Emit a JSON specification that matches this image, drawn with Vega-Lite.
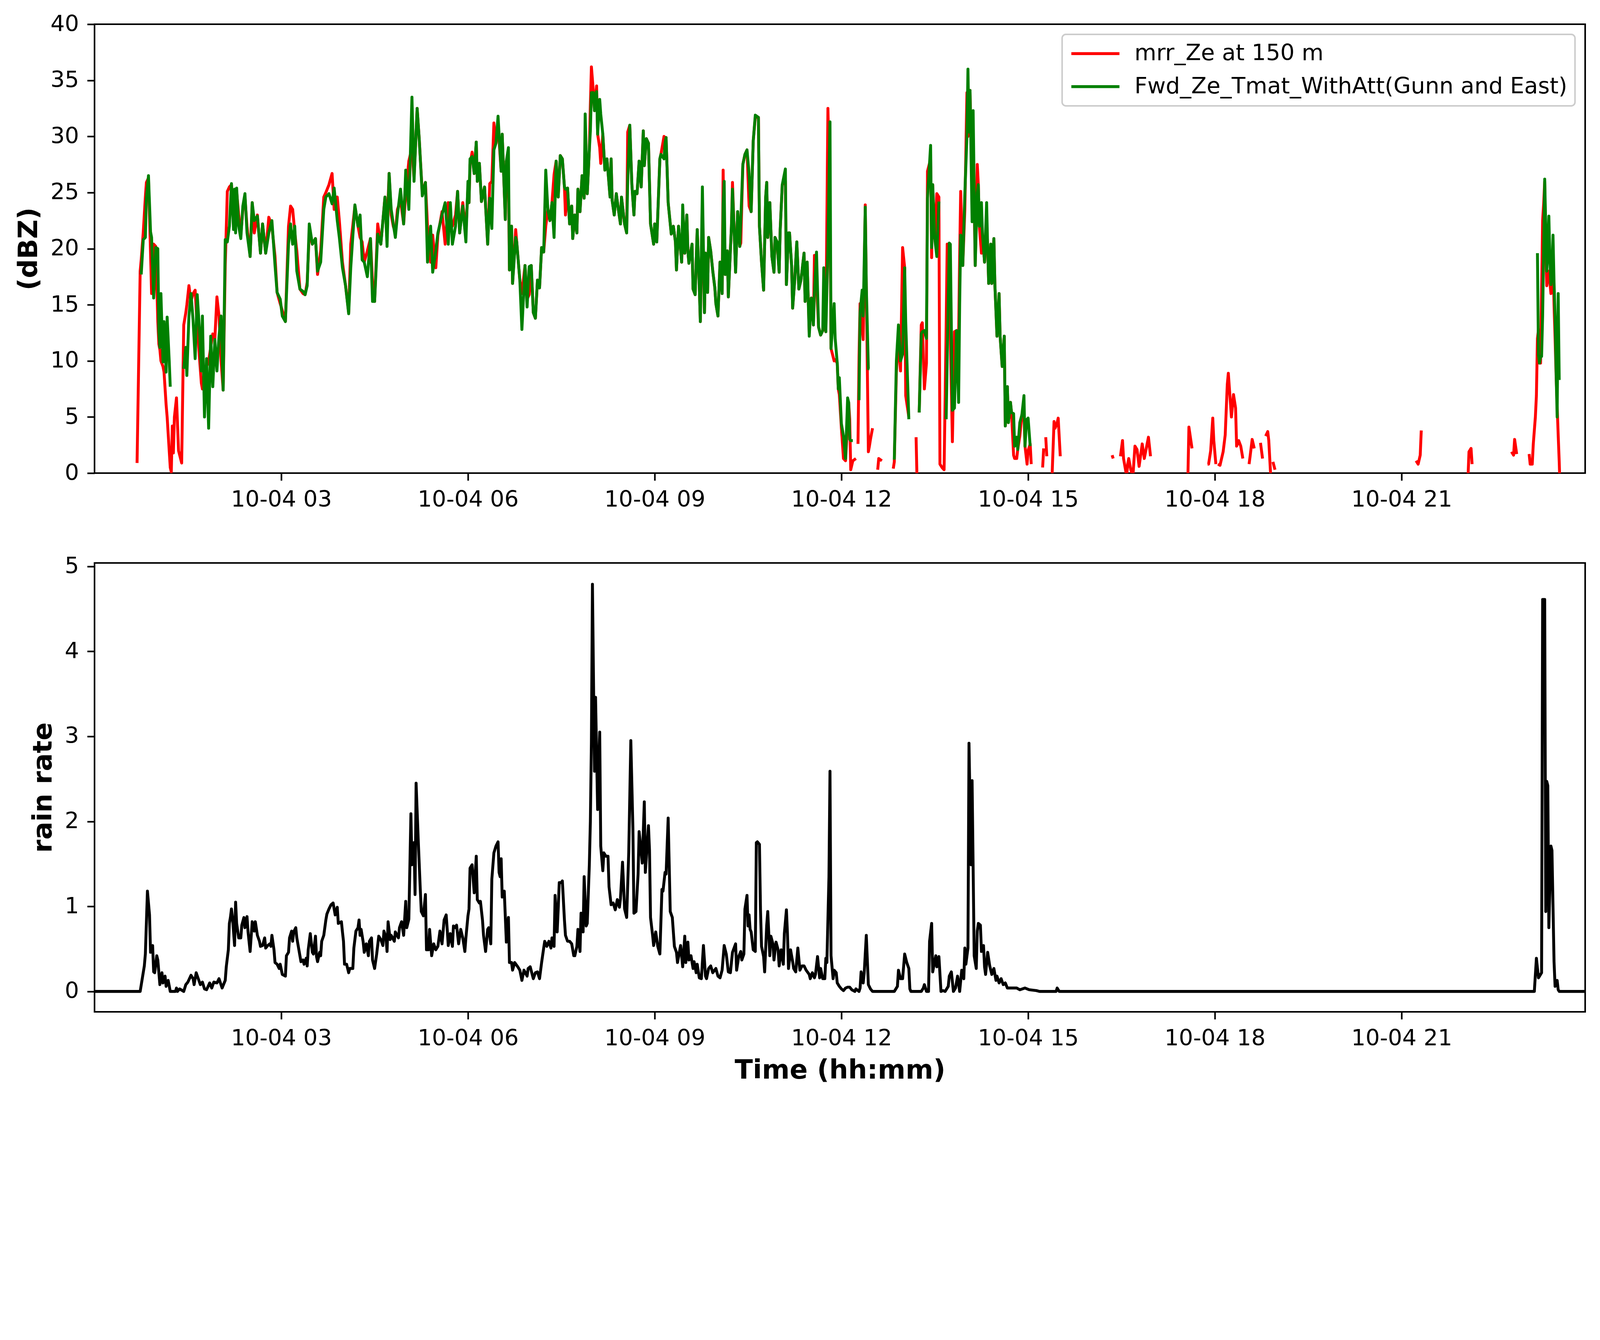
{
  "$schema": "https://vega.github.io/schema/vega-lite/v6.json",
  "background": "white",
  "padding": {"left": 37, "top": 30, "right": 8, "bottom": 8},
  "spacing": 230,
  "bounds": "flush",
  "config": {
    "font": "DejaVu Sans",
    "view": {"stroke": "black", "strokeWidth": 4.1},
    "axis": {
      "grid": false,
      "domain": false,
      "tickColor": "black",
      "tickWidth": 4.1,
      "tickSize": 18.9,
      "labelFont": "DejaVu Sans",
      "labelFontSize": 57.5,
      "labelColor": "black",
      "labelPadding": 21.3,
      "labelLimit": 0,
      "labelFlush": false,
      "labelOverlap": false,
      "titleFont": "DejaVu Sans",
      "titleFontSize": 68.2,
      "titleFontWeight": "bold",
      "titleColor": "black",
      "titlePadding": 19.7
    },
    "legend": {
      "orient": "top-right",
      "offset": 26.3,
      "padding": 19.7,
      "strokeColor": "#cccccc",
      "strokeWidth": 3.9,
      "cornerRadius": 9.8,
      "fillColor": "white",
      "symbolType": "stroke",
      "symbolSize": 15170,
      "symbolStrokeWidth": 7.4,
      "clipHeight": 59,
      "labelFont": "DejaVu Sans",
      "labelFontSize": 57.5,
      "labelColor": "black",
      "labelOffset": 34.5,
      "labelLimit": 0,
      "rowPadding": 25.6
    },
    "line": {"strokeWidth": 7.4, "strokeJoin": "round", "invalid": "break-paths-show-domains"}
  },
  "vconcat": [
    {
      "width": 3816,
      "height": 1149,
      "data": {
        "format": {"parse": {"t": "date:'%H:%M'"}},
        "values": [
          {"t":"00:41","mrr":0.9},{"t":"00:44","mrr":18},{"t":"00:45","mrr":19,"fwd":17.7},{"t":"00:47","mrr":21.5,"fwd":20.8},
          {"t":"00:49","mrr":24.6,"fwd":21},{"t":"00:50","mrr":25.9,"fwd":24.5},{"t":"00:52","mrr":26.3,"fwd":26.5},{"t":"00:54","mrr":19.6,"fwd":21.5},
          {"t":"00:55","mrr":16,"fwd":21},{"t":"00:57","mrr":20.4,"fwd":15.6},{"t":"00:59","mrr":20.2,"fwd":20.1},{"t":"01:01","mrr":13.5,"fwd":20},
          {"t":"01:02","mrr":11.5,"fwd":12.7},{"t":"01:03","mrr":11,"fwd":11.2},{"t":"01:04","mrr":10,"fwd":16},{"t":"01:06","mrr":9.5,"fwd":9.9},
          {"t":"01:07","mrr":9,"fwd":13.5},{"t":"01:09","mrr":6.1,"fwd":9},{"t":"01:10","mrr":5,"fwd":13.9},{"t":"01:12","mrr":2,"fwd":10},
          {"t":"01:13","mrr":0.5,"fwd":7.7},{"t":"01:14","mrr":0.1,"fwd":null},{"t":"01:15","mrr":4.2,"fwd":null},{"t":"01:16","mrr":1.8,"fwd":null},
          {"t":"01:17","mrr":5,"fwd":null},{"t":"01:19","mrr":6.7,"fwd":null},{"t":"01:21","mrr":2,"fwd":null},{"t":"01:24","mrr":0.9,"fwd":null},
          {"t":"01:26","mrr":13.2,"fwd":9.3},{"t":"01:28","mrr":14.3,"fwd":11.2},{"t":"01:29","mrr":15,"fwd":8.7},{"t":"01:31","mrr":16.7,"fwd":14},
          {"t":"01:33","mrr":15.3,"fwd":16},{"t":"01:35","mrr":16,"fwd":13.6},{"t":"01:37","mrr":16.3,"fwd":10.2},{"t":"01:39","mrr":13,"fwd":15.9},
          {"t":"01:41","mrr":10.5,"fwd":13},{"t":"01:43","mrr":8,"fwd":9.1},{"t":"01:44","mrr":7.5,"fwd":14},{"t":"01:46","mrr":9,"fwd":5},
          {"t":"01:48","mrr":9.5,"fwd":10.2},{"t":"01:50","mrr":10,"fwd":4},{"t":"01:52","mrr":11.2,"fwd":12.2},{"t":"01:54","mrr":12.4,"fwd":7.7},
          {"t":"01:56","mrr":12,"fwd":11.9},{"t":"01:58","mrr":15.7,"fwd":9.1},{"t":"02:00","mrr":14,"fwd":12.2},{"t":"02:02","mrr":10,"fwd":14},
          {"t":"02:04","mrr":7.4,"fwd":7.4},{"t":"02:06","mrr":18.5,"fwd":20.8},{"t":"02:08","mrr":25.1,"fwd":20.6},{"t":"02:10","mrr":25.5,"fwd":22},
          {"t":"02:12","mrr":25.7,"fwd":25.8},{"t":"02:14","mrr":22,"fwd":21.7},{"t":"02:15","mrr":23,"fwd":25.3},{"t":"02:16","mrr":22,"fwd":21.4},
          {"t":"02:17","mrr":25.1,"fwd":25.4},{"t":"02:19","mrr":23,"fwd":22},{"t":"02:21","mrr":21.2,"fwd":20.9},{"t":"02:23","mrr":23.5,"fwd":23.8},
          {"t":"02:25","mrr":24.6,"fwd":24.9},{"t":"02:27","mrr":22,"fwd":21.4},{"t":"02:30","mrr":19.3,"fwd":19.3},{"t":"02:32","mrr":24.1,"fwd":24.1},
          {"t":"02:34","mrr":21.4,"fwd":22.5},{"t":"02:37","mrr":23,"fwd":22.9},{"t":"02:40","mrr":19.6,"fwd":19.6},{"t":"02:42","mrr":22.2,"fwd":22.2},
          {"t":"02:45","mrr":19.6,"fwd":19.6},{"t":"02:48","mrr":22.8,"fwd":21.4},{"t":"02:51","mrr":22,"fwd":22.5},{"t":"02:54","mrr":19.3,"fwd":18.5},
          {"t":"02:56","mrr":16.1,"fwd":16.1},{"t":"02:59","mrr":15.1,"fwd":15.5},{"t":"03:01","mrr":14.5,"fwd":14},{"t":"03:04","mrr":13.5,"fwd":13.5},
          {"t":"03:07","mrr":22,"fwd":20.4},{"t":"03:09","mrr":23.8,"fwd":22.2},{"t":"03:11","mrr":23.5,"fwd":20.4},{"t":"03:13","mrr":21.5,"fwd":22},
          {"t":"03:15","mrr":19.8,"fwd":18},{"t":"03:18","mrr":16.4,"fwd":16.4},{"t":"03:21","mrr":16,"fwd":16.2},{"t":"03:23","mrr":15.9,"fwd":15.9},
          {"t":"03:25","mrr":17,"fwd":16.7},{"t":"03:27","mrr":21.4,"fwd":22.2},{"t":"03:30","mrr":20.4,"fwd":20.4},{"t":"03:33","mrr":20.9,"fwd":20.9},
          {"t":"03:35","mrr":17.7,"fwd":18},{"t":"03:38","mrr":19.8,"fwd":18.8},{"t":"03:41","mrr":24.6,"fwd":23.5},{"t":"03:43","mrr":25,"fwd":24.6},
          {"t":"03:46","mrr":25.7,"fwd":24.9},{"t":"03:49","mrr":26.7,"fwd":24},{"t":"03:51","mrr":23.5,"fwd":25.4},{"t":"03:54","mrr":24.6,"fwd":22.5},
          {"t":"03:56","mrr":22.5,"fwd":21},{"t":"03:59","mrr":18.8,"fwd":18.3},{"t":"04:02","mrr":16.7,"fwd":16.7},{"t":"04:05","mrr":14.3,"fwd":14.2},
          {"t":"04:07","mrr":20.4,"fwd":18.3},{"t":"04:11","mrr":23.8,"fwd":23.9},{"t":"04:14","mrr":22,"fwd":22},{"t":"04:16","mrr":21,"fwd":23},
          {"t":"04:18","mrr":20.6,"fwd":19},{"t":"04:20","mrr":18.8,"fwd":18.8},{"t":"04:23","mrr":19.8,"fwd":17.5},{"t":"04:26","mrr":20.9,"fwd":20.9},
          {"t":"04:28","mrr":17,"fwd":15.3},{"t":"04:30","mrr":15.3,"fwd":15.3},{"t":"04:33","mrr":22.2,"fwd":21.3},{"t":"04:36","mrr":20.4,"fwd":20.4},
          {"t":"04:40","mrr":24.6,"fwd":24.6},{"t":"04:42","mrr":22,"fwd":20.2},{"t":"04:44","mrr":26.7,"fwd":26.7},{"t":"04:46","mrr":23,"fwd":23.5},
          {"t":"04:48","mrr":22,"fwd":22.2},{"t":"04:50","mrr":21.4,"fwd":21},{"t":"04:52","mrr":23.5,"fwd":23},{"t":"04:55","mrr":24.3,"fwd":25.3},
          {"t":"04:58","mrr":22.2,"fwd":22.2},{"t":"05:00","mrr":24.9,"fwd":27},{"t":"05:03","mrr":27.8,"fwd":23.5},{"t":"05:06","mrr":29,"fwd":33.5},
          {"t":"05:08","mrr":26.2,"fwd":26},{"t":"05:11","mrr":32.5,"fwd":32.5},{"t":"05:13","mrr":29.8,"fwd":29.8},{"t":"05:16","mrr":24.9,"fwd":24.7},
          {"t":"05:19","mrr":25.9,"fwd":25.9},{"t":"05:21","mrr":22,"fwd":18.8},{"t":"05:24","mrr":18.8,"fwd":22},{"t":"05:26","mrr":21.2,"fwd":17.9},
          {"t":"05:29","mrr":18.3,"fwd":19.8},{"t":"05:31","mrr":21.2,"fwd":21.4},{"t":"05:35","mrr":23.3,"fwd":23},{"t":"05:38","mrr":20.4,"fwd":24.1},
          {"t":"05:41","mrr":24.1,"fwd":20.4},{"t":"05:43","mrr":22,"fwd":24.1},{"t":"05:45","mrr":22,"fwd":20.4},{"t":"05:48","mrr":23,"fwd":22},
          {"t":"05:50","mrr":25.1,"fwd":25.1},{"t":"05:52","mrr":21.4,"fwd":21.4},{"t":"05:55","mrr":24.1,"fwd":23.8},{"t":"05:58","mrr":21.4,"fwd":20.6},
          {"t":"06:00","mrr":25.5,"fwd":26},{"t":"06:01","mrr":24.1,"fwd":24.1},{"t":"06:02","mrr":27.5,"fwd":28},{"t":"06:04","mrr":28.6,"fwd":28.2},
          {"t":"06:06","mrr":26.7,"fwd":26.7},{"t":"06:08","mrr":29.5,"fwd":29.5},{"t":"06:09","mrr":26,"fwd":26},{"t":"06:11","mrr":27.6,"fwd":27.6},
          {"t":"06:13","mrr":24.2,"fwd":24.2},{"t":"06:16","mrr":25.5,"fwd":25.5},{"t":"06:19","mrr":20.4,"fwd":20.4},{"t":"06:21","mrr":25.8,"fwd":24.5},
          {"t":"06:23","mrr":26,"fwd":21.8},{"t":"06:25","mrr":31.2,"fwd":28.8},{"t":"06:27","mrr":29.4,"fwd":29.4},{"t":"06:29","mrr":31,"fwd":31.8},
          {"t":"06:32","mrr":26.9,"fwd":26.9},{"t":"06:33","mrr":30.2,"fwd":30.2},{"t":"06:36","mrr":22.6,"fwd":22.6},{"t":"06:37","mrr":27.8,"fwd":27.8},
          {"t":"06:39","mrr":26,"fwd":29},{"t":"06:40","mrr":18.1,"fwd":18.1},{"t":"06:42","mrr":22,"fwd":22},{"t":"06:43","mrr":16.9,"fwd":16.9},
          {"t":"06:46","mrr":21.7,"fwd":21},{"t":"06:47","mrr":20.6,"fwd":20.6},{"t":"06:50","mrr":17.2,"fwd":17.2},{"t":"06:52","mrr":16,"fwd":12.8},
          {"t":"06:55","mrr":18.5,"fwd":18.5},{"t":"06:57","mrr":15.5,"fwd":14.8},{"t":"06:59","mrr":15.9,"fwd":18.4},{"t":"07:01","mrr":18.5,"fwd":18.5},
          {"t":"07:03","mrr":14.3,"fwd":14.3},{"t":"07:05","mrr":13.8,"fwd":13.8},{"t":"07:07","mrr":17.2,"fwd":17.2},{"t":"07:09","mrr":16.5,"fwd":16.5},
          {"t":"07:11","mrr":20.1,"fwd":20.1},{"t":"07:13","mrr":19.7,"fwd":19.7},{"t":"07:15","mrr":22,"fwd":27},{"t":"07:17","mrr":23.5,"fwd":23.5},
          {"t":"07:19","mrr":22.5,"fwd":22.5},{"t":"07:21","mrr":24.1,"fwd":24.1},{"t":"07:23","mrr":26.6,"fwd":21},{"t":"07:25","mrr":27.8,"fwd":27.8},
          {"t":"07:27","mrr":24.6,"fwd":24.6},{"t":"07:29","mrr":28.3,"fwd":28.3},{"t":"07:31","mrr":28,"fwd":28},{"t":"07:33","mrr":25.5,"fwd":25.5},
          {"t":"07:34","mrr":23,"fwd":25.3},{"t":"07:36","mrr":25.4,"fwd":25.4},{"t":"07:38","mrr":22.2,"fwd":22.2},{"t":"07:40","mrr":23.8,"fwd":23.8},
          {"t":"07:41","mrr":20.9,"fwd":20.9},{"t":"07:43","mrr":23,"fwd":23},{"t":"07:45","mrr":21.4,"fwd":21.4},{"t":"07:46","mrr":25.3,"fwd":25.3},
          {"t":"07:48","mrr":23.3,"fwd":23.3},{"t":"07:50","mrr":26.5,"fwd":26.5},{"t":"07:52","mrr":24.5,"fwd":24.5},{"t":"07:53","mrr":27,"fwd":32},
          {"t":"07:55","mrr":24.9,"fwd":24.9},{"t":"07:57","mrr":28.8,"fwd":28.8},{"t":"07:58","mrr":32.8,"fwd":30.5},{"t":"07:59","mrr":36.2,"fwd":33.9},
          {"t":"08:01","mrr":33.9,"fwd":33.9},{"t":"08:02","mrr":32.3,"fwd":32.3},{"t":"08:04","mrr":34.5,"fwd":34},{"t":"08:05","mrr":30.2,"fwd":30.2},
          {"t":"08:07","mrr":29,"fwd":33.3},{"t":"08:08","mrr":27.6,"fwd":32},{"t":"08:10","mrr":30.2,"fwd":30.2},{"t":"08:12","mrr":27,"fwd":27},
          {"t":"08:14","mrr":28,"fwd":28},{"t":"08:17","mrr":24.6,"fwd":24.6},{"t":"08:18","mrr":28,"fwd":28},{"t":"08:19","mrr":24.3,"fwd":24.3},
          {"t":"08:21","mrr":23,"fwd":23},{"t":"08:23","mrr":24.9,"fwd":24.9},{"t":"08:25","mrr":23.5,"fwd":23.5},{"t":"08:27","mrr":22.2,"fwd":22.2},
          {"t":"08:28","mrr":24.6,"fwd":24.6},{"t":"08:31","mrr":22.2,"fwd":22.2},{"t":"08:33","mrr":21.4,"fwd":21.4},{"t":"08:34","mrr":30.4,"fwd":26},
          {"t":"08:36","mrr":31,"fwd":31},{"t":"08:38","mrr":25.7,"fwd":25.7},{"t":"08:40","mrr":23,"fwd":23},{"t":"08:41","mrr":25.1,"fwd":25.1},
          {"t":"08:43","mrr":24.9,"fwd":24.9},{"t":"08:45","mrr":27.8,"fwd":27.8},{"t":"08:47","mrr":25.5,"fwd":25.5},{"t":"08:49","mrr":30.5,"fwd":30.5},
          {"t":"08:50","mrr":27.4,"fwd":27.4},{"t":"08:52","mrr":29.8,"fwd":29.8},{"t":"08:54","mrr":29.4,"fwd":29.4},{"t":"08:56","mrr":22.2,"fwd":22.2},
          {"t":"08:59","mrr":20.4,"fwd":20.4},{"t":"09:00","mrr":22.2,"fwd":22.2},{"t":"09:02","mrr":20.6,"fwd":20.6},{"t":"09:05","mrr":28,"fwd":28},
          {"t":"09:06","mrr":28.4,"fwd":28.4},{"t":"09:09","mrr":30,"fwd":28},{"t":"09:10","mrr":29.5,"fwd":29.4},{"t":"09:11","mrr":29.9,"fwd":29.9},
          {"t":"09:13","mrr":24.1,"fwd":24.1},{"t":"09:16","mrr":21.3,"fwd":21.3},{"t":"09:18","mrr":22,"fwd":22},{"t":"09:20","mrr":20.6,"fwd":20.6},
          {"t":"09:21","mrr":18.1,"fwd":18.1},{"t":"09:23","mrr":22,"fwd":22},{"t":"09:26","mrr":18.8,"fwd":18.8},{"t":"09:27","mrr":21,"fwd":23.9},
          {"t":"09:29","mrr":19.6,"fwd":19.6},{"t":"09:31","mrr":23,"fwd":23},{"t":"09:32","mrr":19.8,"fwd":19.8},{"t":"09:33","mrr":18.7,"fwd":18.7},
          {"t":"09:36","mrr":20.4,"fwd":20.4},{"t":"09:37","mrr":16.4,"fwd":16.4},{"t":"09:39","mrr":15.9,"fwd":15.9},{"t":"09:41","mrr":21.7,"fwd":21.7},
          {"t":"09:43","mrr":16.7,"fwd":16.7},{"t":"09:44","mrr":13.5,"fwd":13.5},{"t":"09:46","mrr":24,"fwd":25.5},{"t":"09:48","mrr":14.3,"fwd":14.3},
          {"t":"09:49","mrr":19.6,"fwd":19.6},{"t":"09:51","mrr":16.1,"fwd":16.1},{"t":"09:52","mrr":21,"fwd":21},{"t":"09:54","mrr":19.8,"fwd":19.8},
          {"t":"09:56","mrr":18,"fwd":18},{"t":"09:58","mrr":16.5,"fwd":16.5},{"t":"09:59","mrr":15.1,"fwd":15.1},{"t":"10:01","mrr":14,"fwd":14},
          {"t":"10:03","mrr":18.8,"fwd":18.8},{"t":"10:05","mrr":16,"fwd":16},{"t":"10:06","mrr":27,"fwd":24},{"t":"10:07","mrr":20,"fwd":26},
          {"t":"10:08","mrr":17.7,"fwd":17.7},{"t":"10:10","mrr":19.8,"fwd":19.8},{"t":"10:11","mrr":15.7,"fwd":15.7},{"t":"10:14","mrr":22,"fwd":22},
          {"t":"10:15","mrr":25.9,"fwd":25.3},{"t":"10:17","mrr":20.6,"fwd":20.6},{"t":"10:18","mrr":17.9,"fwd":17.9},{"t":"10:20","mrr":23.3,"fwd":23.3},
          {"t":"10:22","mrr":20.2,"fwd":20.2},{"t":"10:23","mrr":20.5,"fwd":22.5},{"t":"10:25","mrr":27.5,"fwd":27.5},{"t":"10:27","mrr":28.4,"fwd":28.4},
          {"t":"10:29","mrr":28.8,"fwd":28.8},{"t":"10:31","mrr":23.8,"fwd":26.7},{"t":"10:33","mrr":23.3,"fwd":23.3},{"t":"10:35","mrr":29.6,"fwd":29.6},
          {"t":"10:37","mrr":31.7,"fwd":31.9},{"t":"10:40","mrr":31.7,"fwd":31.7},{"t":"10:41","mrr":22,"fwd":22},{"t":"10:43","mrr":18.8,"fwd":18.8},
          {"t":"10:45","mrr":16.3,"fwd":16.3},{"t":"10:47","mrr":24.6,"fwd":24.6},{"t":"10:48","mrr":25.9,"fwd":25.9},{"t":"10:49","mrr":21,"fwd":21},
          {"t":"10:51","mrr":24.1,"fwd":24.1},{"t":"10:53","mrr":19.3,"fwd":19.3},{"t":"10:55","mrr":17.9,"fwd":17.9},{"t":"10:56","mrr":21,"fwd":21},
          {"t":"10:58","mrr":20.6,"fwd":20.6},{"t":"11:00","mrr":17.9,"fwd":17.9},{"t":"11:01","mrr":21.7,"fwd":21.7},{"t":"11:03","mrr":25.7,"fwd":25.7},
          {"t":"11:06","mrr":26,"fwd":27.1},{"t":"11:07","mrr":16.8,"fwd":16.8},{"t":"11:09","mrr":21.4,"fwd":21.4},{"t":"11:10","mrr":21.4,"fwd":21.4},
          {"t":"11:12","mrr":18.5,"fwd":18.5},{"t":"11:13","mrr":14.7,"fwd":14.7},{"t":"11:15","mrr":17.2,"fwd":17.2},{"t":"11:17","mrr":20.6,"fwd":20.6},
          {"t":"11:19","mrr":16.4,"fwd":16.4},{"t":"11:21","mrr":17.2,"fwd":17.2},{"t":"11:24","mrr":19.6,"fwd":19.6},{"t":"11:25","mrr":15.3,"fwd":15.3},
          {"t":"11:27","mrr":18.8,"fwd":18.8},{"t":"11:29","mrr":12.5,"fwd":12.2},{"t":"11:31","mrr":15.6,"fwd":15.6},{"t":"11:33","mrr":13.2,"fwd":13.2},
          {"t":"11:34","mrr":19.4,"fwd":16},{"t":"11:36","mrr":17,"fwd":19.7},{"t":"11:38","mrr":13,"fwd":13},{"t":"11:40","mrr":12.3,"fwd":12.3},
          {"t":"11:42","mrr":12.7,"fwd":12.7},{"t":"11:43","mrr":14,"fwd":18.3},{"t":"11:45","mrr":12.6,"fwd":12.6},{"t":"11:47","mrr":32.5,"fwd":20},
          {"t":"11:49","mrr":24,"fwd":31.3},{"t":"11:50","mrr":11.1,"fwd":11.1},{"t":"11:53","mrr":10,"fwd":15.1},{"t":"11:54","mrr":10.1,"fwd":12},
          {"t":"11:56","mrr":9.8,"fwd":9.8},{"t":"11:57","mrr":7.5,"fwd":7.5},{"t":"11:58","mrr":7,"fwd":8.5},{"t":"12:00","mrr":4,"fwd":4.4},
          {"t":"12:02","mrr":1.3,"fwd":3.3},{"t":"12:04","mrr":1.1,"fwd":1.3},{"t":"12:06","mrr":4.5,"fwd":6.7},{"t":"12:07","mrr":6.3,"fwd":6.3},
          {"t":"12:08","mrr":4.8,"fwd":3},{"t":"12:09","mrr":0.3,"fwd":2.9},{"t":"12:11","mrr":1.1,"fwd":2.9},{"t":"12:14","mrr":1.3,"fwd":null},
          {"t":"12:15","mrr":null,"fwd":null},{"t":"12:16","mrr":2.6,"fwd":null},{"t":"12:17","mrr":10.4,"fwd":6.5},{"t":"12:18","mrr":15.1,"fwd":14.3},
          {"t":"12:20","mrr":13,"fwd":16.3},{"t":"12:21","mrr":11.9,"fwd":14},{"t":"12:23","mrr":23.9,"fwd":23.7},{"t":"12:24","mrr":16.7,"fwd":16.7},
          {"t":"12:26","mrr":1.9,"fwd":9.3},{"t":"12:27","mrr":2.4,"fwd":9.3},{"t":"12:28","mrr":3,"fwd":null},{"t":"12:30","mrr":4,"fwd":null},
          {"t":"12:32","mrr":null,"fwd":null},{"t":"12:35","mrr":0.3},{"t":"12:36","mrr":1.3},{"t":"12:39","mrr":1.1},
          {"t":"12:41","mrr":null},{"t":"12:50","mrr":0.4},{"t":"12:51","mrr":1,"fwd":1.2},{"t":"12:53","mrr":9,"fwd":10},
          {"t":"12:55","mrr":12,"fwd":13.2},{"t":"12:57","mrr":9.1,"fwd":10},{"t":"12:59","mrr":20.1,"fwd":10.6},{"t":"13:01","mrr":18.3,"fwd":18.3},
          {"t":"13:02","mrr":6.9,"fwd":13.5},{"t":"13:05","mrr":5,"fwd":4.8},{"t":"13:07","mrr":null,"fwd":null},{"t":"13:12","mrr":3.2},
          {"t":"13:13","mrr":-1},{"t":"13:14","mrr":null},{"t":"13:15","mrr":5.4,"fwd":5.4},{"t":"13:17","mrr":13.2,"fwd":12.4},
          {"t":"13:18","mrr":13.4,"fwd":12.6},{"t":"13:20","mrr":7.5,"fwd":12.7},{"t":"13:22","mrr":9.8,"fwd":12},{"t":"13:23","mrr":26.9,"fwd":24.5},
          {"t":"13:26","mrr":28,"fwd":29.2},{"t":"13:27","mrr":19.2,"fwd":20.1},{"t":"13:28","mrr":25.7,"fwd":25.7},{"t":"13:30","mrr":20.9,"fwd":20.9},
          {"t":"13:32","mrr":24.9,"fwd":19.3},{"t":"13:34","mrr":24.6,"fwd":24.2},{"t":"13:35","mrr":0.8,"fwd":null},{"t":"13:37","mrr":0.5,"fwd":null},
          {"t":"13:39","mrr":0.3,"fwd":null},{"t":"13:41","mrr":13.1,"fwd":4.8},{"t":"13:42","mrr":20.4,"fwd":10.1},{"t":"13:44","mrr":19,"fwd":20.5},
          {"t":"13:45","mrr":12.4,"fwd":20.4},{"t":"13:47","mrr":2.8,"fwd":5.6},{"t":"13:49","mrr":12.6,"fwd":5.8},{"t":"13:51","mrr":12.7,"fwd":12.7},
          {"t":"13:53","mrr":12.3,"fwd":6.3},{"t":"13:54","mrr":19.3,"fwd":15},{"t":"13:55","mrr":25.1,"fwd":21.2},{"t":"13:57","mrr":18.5,"fwd":18.5},
          {"t":"13:59","mrr":23.5,"fwd":24.9},{"t":"14:01","mrr":33.9,"fwd":30},{"t":"14:02","mrr":30,"fwd":36},{"t":"14:03","mrr":30.4,"fwd":30.4},
          {"t":"14:04","mrr":34.1,"fwd":34.1},{"t":"14:06","mrr":25.4,"fwd":22.4},{"t":"14:07","mrr":30,"fwd":32.3},{"t":"14:09","mrr":18.5,"fwd":18.5},
          {"t":"14:11","mrr":27.5,"fwd":25},{"t":"14:12","mrr":25.7,"fwd":25.7},{"t":"14:13","mrr":22,"fwd":22},{"t":"14:15","mrr":19.6,"fwd":24.1},
          {"t":"14:16","mrr":21.3,"fwd":21.3},{"t":"14:18","mrr":18.8,"fwd":18.8},{"t":"14:20","mrr":22,"fwd":24.1},{"t":"14:21","mrr":20.1,"fwd":20.1},
          {"t":"14:22","mrr":16.9,"fwd":16.9},{"t":"14:24","mrr":20.4,"fwd":20.4},{"t":"14:25","mrr":16.9,"fwd":16.9},{"t":"14:27","mrr":20.9,"fwd":20.9},
          {"t":"14:28","mrr":16.7,"fwd":16.7},{"t":"14:30","mrr":12.2,"fwd":12.2},{"t":"14:32","mrr":16,"fwd":16},{"t":"14:33","mrr":12.2,"fwd":12.2},
          {"t":"14:35","mrr":9.5,"fwd":9.5},{"t":"14:37","mrr":12.2,"fwd":12.2},{"t":"14:38","mrr":4.2,"fwd":4.2},{"t":"14:40","mrr":7.7,"fwd":7.7},
          {"t":"14:41","mrr":4.5,"fwd":4.5},{"t":"14:43","mrr":6.3,"fwd":6.3},{"t":"14:44","mrr":5.4,"fwd":5.4},{"t":"14:46","mrr":1.6,"fwd":5.3},
          {"t":"14:47","mrr":1.3,"fwd":2.4},{"t":"14:49","mrr":1.3,"fwd":3.2},{"t":"14:50","mrr":2.1,"fwd":2.1},{"t":"14:52","mrr":3.3,"fwd":4.5},
          {"t":"14:54","mrr":5.2,"fwd":5.2},{"t":"14:56","mrr":5.3,"fwd":6.9},{"t":"14:57","mrr":2.4,"fwd":2.4},{"t":"14:58","mrr":1.6,"fwd":4},
          {"t":"14:59","mrr":0.8,"fwd":4.8},{"t":"15:00","mrr":2,"fwd":4.9},{"t":"15:02","mrr":2.6,"fwd":2.4},{"t":"15:03","mrr":0.8,"fwd":null},
          {"t":"15:05","mrr":null},{"t":"15:14","mrr":0.5},{"t":"15:15","mrr":2.2},{"t":"15:16","mrr":null},
          {"t":"15:17","mrr":3.2},{"t":"15:18","mrr":1.5},{"t":"15:19","mrr":null},{"t":"15:23","mrr":-0.5},
          {"t":"15:25","mrr":4.6},{"t":"15:26","mrr":4},{"t":"15:28","mrr":4.5},{"t":"15:29","mrr":4.9},
          {"t":"15:31","mrr":1.5},{"t":"15:32","mrr":null},{"t":"16:21","mrr":1.6},{"t":"16:22","mrr":1.3},
          {"t":"16:23","mrr":null},{"t":"16:29","mrr":1.5},{"t":"16:31","mrr":2.9},{"t":"16:32","mrr":1.3},
          {"t":"16:35","mrr":-0.3},{"t":"16:36","mrr":0.8},{"t":"16:37","mrr":1.3},{"t":"16:39","mrr":0.3},
          {"t":"16:41","mrr":-0.3},{"t":"16:43","mrr":2.4},{"t":"16:45","mrr":2.1},{"t":"16:47","mrr":0.6},
          {"t":"16:50","mrr":2.6},{"t":"16:52","mrr":1.3},{"t":"16:56","mrr":3.2},{"t":"16:58","mrr":1.5},
          {"t":"16:59","mrr":null},{"t":"17:34","mrr":-0.5},{"t":"17:35","mrr":4.1},{"t":"17:38","mrr":2.2},
          {"t":"17:39","mrr":null},{"t":"17:53","mrr":0.8},{"t":"17:54","mrr":0.8},{"t":"17:56","mrr":2},
          {"t":"17:58","mrr":4.9},{"t":"17:59","mrr":2.9},{"t":"18:01","mrr":0.8},{"t":"18:02","mrr":null},
          {"t":"18:03","mrr":0.8},{"t":"18:05","mrr":0.7},{"t":"18:08","mrr":1.9},{"t":"18:10","mrr":3.4},
          {"t":"18:12","mrr":7.9},{"t":"18:13","mrr":8.9},{"t":"18:15","mrr":6.3},{"t":"18:16","mrr":5},
          {"t":"18:18","mrr":7},{"t":"18:20","mrr":5.8},{"t":"18:21","mrr":2.4},{"t":"18:23","mrr":2.9},
          {"t":"18:25","mrr":2.4},{"t":"18:27","mrr":1.3},{"t":"18:28","mrr":null},{"t":"18:33","mrr":0.8},
          {"t":"18:34","mrr":1.5},{"t":"18:36","mrr":3},{"t":"18:38","mrr":2.2},{"t":"18:39","mrr":null},
          {"t":"18:44","mrr":2.7},{"t":"18:46","mrr":1.3},{"t":"18:47","mrr":null},{"t":"18:49","mrr":3.3},
          {"t":"18:51","mrr":3.7},{"t":"18:52","mrr":2.9},{"t":"18:54","mrr":-0.5},{"t":"18:55","mrr":null},
          {"t":"18:56","mrr":1},{"t":"18:58","mrr":0.3},{"t":"18:59","mrr":null},{"t":"21:14","mrr":1.1},
          {"t":"21:16","mrr":0.8},{"t":"21:18","mrr":1.6},{"t":"21:19","mrr":3.8},{"t":"21:20","mrr":null},
          {"t":"22:04","mrr":-0.5},{"t":"22:05","mrr":1.9},{"t":"22:07","mrr":2.2},{"t":"22:08","mrr":0.8},
          {"t":"22:09","mrr":null},{"t":"22:46","mrr":1.9},{"t":"22:48","mrr":1.6},{"t":"22:49","mrr":3},
          {"t":"22:51","mrr":1.7},{"t":"22:52","mrr":null},{"t":"23:03","mrr":1.7},{"t":"23:04","mrr":0.8},
          {"t":"23:06","mrr":0.8},{"t":"23:07","mrr":2.6},{"t":"23:09","mrr":5},{"t":"23:10","mrr":6.9},
          {"t":"23:11","mrr":12,"fwd":19.6},{"t":"23:12","mrr":12.8,"fwd":10.5},{"t":"23:13","mrr":11,"fwd":9.8},{"t":"23:14","mrr":9.8,"fwd":10.4},
          {"t":"23:15","mrr":16,"fwd":10.4},{"t":"23:16","mrr":22.5,"fwd":14},{"t":"23:17","mrr":24,"fwd":20},{"t":"23:18","mrr":26,"fwd":26.2},
          {"t":"23:19","mrr":20,"fwd":22},{"t":"23:20","mrr":16.7,"fwd":18},{"t":"23:21","mrr":17.5,"fwd":20},{"t":"23:22","mrr":18,"fwd":22.9},
          {"t":"23:23","mrr":17,"fwd":19},{"t":"23:24","mrr":16,"fwd":16.8},{"t":"23:25","mrr":17,"fwd":18},{"t":"23:26","mrr":18.8,"fwd":21.2},
          {"t":"23:27","mrr":15,"fwd":17},{"t":"23:28","mrr":12,"fwd":14},{"t":"23:29","mrr":8.7,"fwd":9},{"t":"23:30","mrr":6,"fwd":5},
          {"t":"23:31","mrr":3.4,"fwd":16},{"t":"23:32","mrr":1,"fwd":8.3},{"t":"23:33","mrr":-2,"fwd":null}
        ]
      },
      "transform": [{"fold": ["mrr", "fwd"], "as": ["series", "value"]}],
      "mark": {"type": "line", "clip": true},
      "encoding": {
        "x": {
          "field": "t",
          "type": "temporal",
          "title": null,
          "scale": {
            "domain": [
              {"year": 1900, "month": 1, "date": 1, "hours": 0, "minutes": 0},
              {"year": 1900, "month": 1, "date": 1, "hours": 23, "minutes": 57}
            ],
            "nice": false
          },
          "axis": {
            "format": "10-04 %H",
            "values": [
              {"year": 1900, "month": 1, "date": 1, "hours": 3},
              {"year": 1900, "month": 1, "date": 1, "hours": 6},
              {"year": 1900, "month": 1, "date": 1, "hours": 9},
              {"year": 1900, "month": 1, "date": 1, "hours": 12},
              {"year": 1900, "month": 1, "date": 1, "hours": 15},
              {"year": 1900, "month": 1, "date": 1, "hours": 18},
              {"year": 1900, "month": 1, "date": 1, "hours": 21}
            ]
          }
        },
        "y": {
          "field": "value",
          "type": "quantitative",
          "title": "(dBZ)",
          "scale": {"domain": [0, 40], "nice": false},
          "axis": {"values": [0, 5, 10, 15, 20, 25, 30, 35, 40]}
        },
        "color": {
          "field": "series",
          "type": "nominal",
          "scale": {"domain": ["mrr", "fwd"], "range": ["#ff0000", "#008000"]},
          "legend": {
            "title": null,
            "labelExpr": "datum.value == 'mrr' ? 'mrr_Ze at 150 m' : 'Fwd_Ze_Tmat_WithAtt(Gunn and East)'"
          }
        }
      }
    },
    {
      "width": 3816,
      "height": 1149,
      "data": {
        "format": {"parse": {"t": "date:'%H:%M'"}},
        "values": [
          {"t":"00:00","rain":0},{"t":"00:44","rain":0},{"t":"00:46","rain":0.15},{"t":"00:48","rain":0.3},{"t":"00:49","rain":0.44},
          {"t":"00:51","rain":1.18},{"t":"00:53","rain":0.9},{"t":"00:54","rain":0.46},{"t":"00:56","rain":0.54},{"t":"00:57","rain":0.23},
          {"t":"00:58","rain":0.22},{"t":"01:00","rain":0.42},{"t":"01:01","rain":0.37},{"t":"01:03","rain":0.08},{"t":"01:05","rain":0.22},
          {"t":"01:06","rain":0.1},{"t":"01:08","rain":0.18},{"t":"01:09","rain":0.06},{"t":"01:11","rain":0.13},{"t":"01:13","rain":0},
          {"t":"01:18","rain":0},{"t":"01:19","rain":0.04},{"t":"01:20","rain":0},{"t":"01:22","rain":0.03},{"t":"01:26","rain":0},
          {"t":"01:28","rain":0.08},{"t":"01:30","rain":0.11},{"t":"01:33","rain":0.19},{"t":"01:35","rain":0.15},{"t":"01:36","rain":0.08},
          {"t":"01:38","rain":0.22},{"t":"01:40","rain":0.15},{"t":"01:42","rain":0.08},{"t":"01:44","rain":0.11},{"t":"01:46","rain":0.03},
          {"t":"01:48","rain":0.02},{"t":"01:51","rain":0.1},{"t":"01:53","rain":0.04},{"t":"01:55","rain":0.11},{"t":"01:58","rain":0.1},
          {"t":"02:00","rain":0.15},{"t":"02:03","rain":0.04},{"t":"02:06","rain":0.13},{"t":"02:07","rain":0.29},{"t":"02:09","rain":0.49},
          {"t":"02:10","rain":0.8},{"t":"02:11","rain":0.87},{"t":"02:12","rain":0.97},{"t":"02:13","rain":0.87},{"t":"02:15","rain":0.54},
          {"t":"02:16","rain":1.05},{"t":"02:17","rain":0.8},{"t":"02:19","rain":0.63},{"t":"02:21","rain":0.63},{"t":"02:22","rain":0.78},
          {"t":"02:24","rain":0.87},{"t":"02:25","rain":0.75},{"t":"02:27","rain":0.88},{"t":"02:28","rain":0.7},{"t":"02:30","rain":0.47},
          {"t":"02:32","rain":0.82},{"t":"02:34","rain":0.71},{"t":"02:35","rain":0.82},{"t":"02:37","rain":0.66},{"t":"02:39","rain":0.59},
          {"t":"02:40","rain":0.53},{"t":"02:42","rain":0.54},{"t":"02:44","rain":0.63},{"t":"02:45","rain":0.51},{"t":"02:47","rain":0.54},
          {"t":"02:49","rain":0.56},{"t":"02:50","rain":0.53},{"t":"02:51","rain":0.66},{"t":"02:53","rain":0.49},{"t":"02:54","rain":0.34},
          {"t":"02:56","rain":0.32},{"t":"02:58","rain":0.27},{"t":"02:59","rain":0.32},{"t":"03:01","rain":0.2},{"t":"03:04","rain":0.18},
          {"t":"03:05","rain":0.42},{"t":"03:07","rain":0.46},{"t":"03:08","rain":0.63},{"t":"03:10","rain":0.71},{"t":"03:11","rain":0.59},
          {"t":"03:12","rain":0.7},{"t":"03:14","rain":0.75},{"t":"03:15","rain":0.63},{"t":"03:17","rain":0.49},{"t":"03:19","rain":0.35},
          {"t":"03:21","rain":0.37},{"t":"03:22","rain":0.32},{"t":"03:24","rain":0.39},{"t":"03:25","rain":0.3},{"t":"03:26","rain":0.49},
          {"t":"03:28","rain":0.68},{"t":"03:30","rain":0.46},{"t":"03:31","rain":0.44},{"t":"03:33","rain":0.65},{"t":"03:34","rain":0.41},
          {"t":"03:35","rain":0.35},{"t":"03:37","rain":0.46},{"t":"03:38","rain":0.42},{"t":"03:39","rain":0.59},{"t":"03:41","rain":0.66},
          {"t":"03:43","rain":0.84},{"t":"03:44","rain":0.91},{"t":"03:46","rain":0.97},{"t":"03:48","rain":1.02},{"t":"03:50","rain":1.04},
          {"t":"03:52","rain":0.9},{"t":"03:54","rain":0.99},{"t":"03:55","rain":0.8},{"t":"03:58","rain":0.82},{"t":"03:59","rain":0.7},
          {"t":"04:00","rain":0.59},{"t":"04:01","rain":0.32},{"t":"04:03","rain":0.32},{"t":"04:05","rain":0.22},{"t":"04:06","rain":0.27},
          {"t":"04:09","rain":0.27},{"t":"04:10","rain":0.51},{"t":"04:12","rain":0.71},{"t":"04:14","rain":0.75},{"t":"04:15","rain":0.84},
          {"t":"04:16","rain":0.66},{"t":"04:17","rain":0.73},{"t":"04:19","rain":0.58},{"t":"04:20","rain":0.46},{"t":"04:22","rain":0.56},
          {"t":"04:24","rain":0.42},{"t":"04:25","rain":0.59},{"t":"04:27","rain":0.63},{"t":"04:28","rain":0.37},{"t":"04:30","rain":0.27},
          {"t":"04:32","rain":0.44},{"t":"04:34","rain":0.65},{"t":"04:36","rain":0.61},{"t":"04:38","rain":0.54},{"t":"04:39","rain":0.71},
          {"t":"04:41","rain":0.63},{"t":"04:42","rain":0.47},{"t":"04:43","rain":0.82},{"t":"04:45","rain":0.61},{"t":"04:46","rain":0.66},
          {"t":"04:49","rain":0.59},{"t":"04:50","rain":0.7},{"t":"04:53","rain":0.63},{"t":"04:54","rain":0.75},{"t":"04:56","rain":0.82},
          {"t":"04:58","rain":0.66},{"t":"05:00","rain":1.06},{"t":"05:01","rain":0.75},{"t":"05:03","rain":0.85},{"t":"05:05","rain":2.09},
          {"t":"05:06","rain":1.49},{"t":"05:08","rain":1.75},{"t":"05:09","rain":1.14},{"t":"05:10","rain":2.45},{"t":"05:12","rain":1.8},
          {"t":"05:14","rain":1.21},{"t":"05:15","rain":0.94},{"t":"05:17","rain":0.89},{"t":"05:19","rain":1.14},{"t":"05:20","rain":0.49},
          {"t":"05:22","rain":0.49},{"t":"05:23","rain":0.73},{"t":"05:25","rain":0.42},{"t":"05:27","rain":0.56},{"t":"05:29","rain":0.49},
          {"t":"05:31","rain":0.53},{"t":"05:33","rain":0.71},{"t":"05:35","rain":0.56},{"t":"05:37","rain":0.84},{"t":"05:39","rain":0.9},
          {"t":"05:40","rain":0.73},{"t":"05:41","rain":0.54},{"t":"05:43","rain":0.68},{"t":"05:45","rain":0.53},{"t":"05:46","rain":0.77},
          {"t":"05:48","rain":0.75},{"t":"05:49","rain":0.78},{"t":"05:51","rain":0.56},{"t":"05:53","rain":0.73},{"t":"05:55","rain":0.63},
          {"t":"05:57","rain":0.47},{"t":"05:58","rain":0.63},{"t":"06:00","rain":0.89},{"t":"06:01","rain":0.97},{"t":"06:02","rain":1.45},
          {"t":"06:04","rain":1.49},{"t":"06:06","rain":1.16},{"t":"06:08","rain":1.59},{"t":"06:09","rain":1.08},{"t":"06:11","rain":1.04},
          {"t":"06:12","rain":1.06},{"t":"06:14","rain":0.84},{"t":"06:15","rain":0.66},{"t":"06:17","rain":0.47},{"t":"06:19","rain":0.73},
          {"t":"06:20","rain":0.75},{"t":"06:22","rain":0.56},{"t":"06:23","rain":1.32},{"t":"06:25","rain":1.63},{"t":"06:27","rain":1.71},
          {"t":"06:29","rain":1.76},{"t":"06:30","rain":1.4},{"t":"06:31","rain":1.35},{"t":"06:32","rain":1.56},{"t":"06:33","rain":1.11},
          {"t":"06:35","rain":1.18},{"t":"06:37","rain":0.58},{"t":"06:39","rain":0.87},{"t":"06:40","rain":0.34},{"t":"06:42","rain":0.34},
          {"t":"06:43","rain":0.25},{"t":"06:45","rain":0.34},{"t":"06:48","rain":0.29},{"t":"06:50","rain":0.25},{"t":"06:52","rain":0.13},
          {"t":"06:54","rain":0.25},{"t":"06:57","rain":0.18},{"t":"06:58","rain":0.27},{"t":"07:00","rain":0.29},{"t":"07:03","rain":0.15},
          {"t":"07:05","rain":0.22},{"t":"07:07","rain":0.23},{"t":"07:09","rain":0.15},{"t":"07:11","rain":0.34},{"t":"07:13","rain":0.51},
          {"t":"07:14","rain":0.59},{"t":"07:16","rain":0.53},{"t":"07:18","rain":0.59},{"t":"07:20","rain":0.51},{"t":"07:21","rain":0.63},
          {"t":"07:23","rain":0.53},{"t":"07:24","rain":1.13},{"t":"07:26","rain":0.7},{"t":"07:27","rain":0.97},{"t":"07:28","rain":1.28},
          {"t":"07:30","rain":1.28},{"t":"07:31","rain":1.3},{"t":"07:33","rain":0.84},{"t":"07:34","rain":0.66},{"t":"07:36","rain":0.59},
          {"t":"07:38","rain":0.59},{"t":"07:40","rain":0.56},{"t":"07:42","rain":0.42},{"t":"07:43","rain":0.42},{"t":"07:45","rain":0.53},
          {"t":"07:46","rain":0.73},{"t":"07:48","rain":0.47},{"t":"07:49","rain":0.92},{"t":"07:51","rain":0.7},{"t":"07:52","rain":1.35},
          {"t":"07:54","rain":0.77},{"t":"07:55","rain":0.8},{"t":"07:57","rain":1.49},{"t":"07:58","rain":2},{"t":"07:59","rain":2.93},
          {"t":"08:00","rain":4.79},{"t":"08:02","rain":2.59},{"t":"08:03","rain":3.46},{"t":"08:05","rain":2.14},{"t":"08:07","rain":3.05},
          {"t":"08:08","rain":1.71},{"t":"08:10","rain":1.42},{"t":"08:11","rain":1.63},{"t":"08:13","rain":1.59},{"t":"08:15","rain":1.59},
          {"t":"08:16","rain":1.23},{"t":"08:18","rain":1.02},{"t":"08:20","rain":1.04},{"t":"08:22","rain":0.96},{"t":"08:24","rain":1.08},
          {"t":"08:26","rain":0.99},{"t":"08:27","rain":1.09},{"t":"08:29","rain":1.52},{"t":"08:31","rain":0.97},{"t":"08:33","rain":0.87},
          {"t":"08:35","rain":1.64},{"t":"08:37","rain":2.95},{"t":"08:39","rain":1.92},{"t":"08:40","rain":0.92},{"t":"08:42","rain":0.94},
          {"t":"08:44","rain":1.38},{"t":"08:45","rain":1.88},{"t":"08:48","rain":1.51},{"t":"08:50","rain":2.23},{"t":"08:51","rain":1.4},
          {"t":"08:54","rain":1.95},{"t":"08:55","rain":1.66},{"t":"08:56","rain":0.87},{"t":"08:58","rain":0.66},{"t":"08:59","rain":0.54},
          {"t":"09:01","rain":0.7},{"t":"09:03","rain":0.53},{"t":"09:05","rain":0.44},{"t":"09:07","rain":1.2},{"t":"09:08","rain":1.18},
          {"t":"09:10","rain":1.4},{"t":"09:11","rain":1.38},{"t":"09:13","rain":2.04},{"t":"09:15","rain":0.94},{"t":"09:17","rain":0.87},
          {"t":"09:19","rain":0.53},{"t":"09:21","rain":0.46},{"t":"09:22","rain":0.34},{"t":"09:25","rain":0.54},{"t":"09:27","rain":0.29},
          {"t":"09:29","rain":0.65},{"t":"09:30","rain":0.34},{"t":"09:32","rain":0.58},{"t":"09:33","rain":0.37},{"t":"09:35","rain":0.42},
          {"t":"09:37","rain":0.27},{"t":"09:38","rain":0.35},{"t":"09:40","rain":0.22},{"t":"09:41","rain":0.32},{"t":"09:43","rain":0.16},
          {"t":"09:45","rain":0.15},{"t":"09:47","rain":0.54},{"t":"09:49","rain":0.18},{"t":"09:50","rain":0.15},{"t":"09:52","rain":0.27},
          {"t":"09:54","rain":0.3},{"t":"09:56","rain":0.22},{"t":"09:59","rain":0.27},{"t":"10:01","rain":0.18},{"t":"10:03","rain":0.16},
          {"t":"10:05","rain":0.25},{"t":"10:07","rain":0.54},{"t":"10:09","rain":0.44},{"t":"10:11","rain":0.23},{"t":"10:13","rain":0.22},
          {"t":"10:15","rain":0.46},{"t":"10:18","rain":0.56},{"t":"10:19","rain":0.25},{"t":"10:21","rain":0.41},{"t":"10:23","rain":0.47},
          {"t":"10:24","rain":0.37},{"t":"10:26","rain":0.44},{"t":"10:27","rain":0.97},{"t":"10:29","rain":1.13},{"t":"10:30","rain":0.77},
          {"t":"10:31","rain":0.9},{"t":"10:32","rain":0.73},{"t":"10:33","rain":0.7},{"t":"10:35","rain":0.49},{"t":"10:37","rain":0.47},
          {"t":"10:38","rain":1.75},{"t":"10:39","rain":1.76},{"t":"10:41","rain":1.73},{"t":"10:42","rain":0.96},{"t":"10:43","rain":0.53},
          {"t":"10:45","rain":0.41},{"t":"10:46","rain":0.23},{"t":"10:48","rain":0.78},{"t":"10:49","rain":0.94},{"t":"10:51","rain":0.42},
          {"t":"10:52","rain":0.65},{"t":"10:54","rain":0.56},{"t":"10:55","rain":0.37},{"t":"10:57","rain":0.58},{"t":"10:59","rain":0.49},
          {"t":"11:00","rain":0.3},{"t":"11:02","rain":0.49},{"t":"11:04","rain":0.32},{"t":"11:05","rain":0.68},{"t":"11:07","rain":0.96},
          {"t":"11:08","rain":0.68},{"t":"11:09","rain":0.27},{"t":"11:11","rain":0.49},{"t":"11:13","rain":0.35},{"t":"11:14","rain":0.27},
          {"t":"11:16","rain":0.23},{"t":"11:18","rain":0.51},{"t":"11:20","rain":0.25},{"t":"11:22","rain":0.3},{"t":"11:24","rain":0.3},
          {"t":"11:26","rain":0.25},{"t":"11:29","rain":0.2},{"t":"11:30","rain":0.15},{"t":"11:32","rain":0.22},{"t":"11:34","rain":0.16},
          {"t":"11:35","rain":0.2},{"t":"11:37","rain":0.41},{"t":"11:39","rain":0.16},{"t":"11:40","rain":0.27},{"t":"11:42","rain":0.15},
          {"t":"11:44","rain":0.15},{"t":"11:45","rain":0.39},{"t":"11:46","rain":0.34},{"t":"11:48","rain":1.35},{"t":"11:49","rain":2.59},
          {"t":"11:50","rain":0.42},{"t":"11:52","rain":0.15},{"t":"11:53","rain":0.25},{"t":"11:55","rain":0.22},{"t":"11:56","rain":0.1},
          {"t":"11:58","rain":0.06},{"t":"12:00","rain":0.03},{"t":"12:02","rain":0.01},{"t":"12:04","rain":0.04},{"t":"12:06","rain":0.05},
          {"t":"12:08","rain":0.05},{"t":"12:10","rain":0.02},{"t":"12:13","rain":0},{"t":"12:14","rain":0.03},{"t":"12:17","rain":0},
          {"t":"12:18","rain":0.04},{"t":"12:19","rain":0.23},{"t":"12:21","rain":0.1},{"t":"12:22","rain":0.22},{"t":"12:24","rain":0.66},
          {"t":"12:26","rain":0.08},{"t":"12:28","rain":0.03},{"t":"12:30","rain":0},{"t":"12:51","rain":0},{"t":"12:54","rain":0.06},
          {"t":"12:55","rain":0.25},{"t":"12:57","rain":0.15},{"t":"12:59","rain":0.15},{"t":"13:01","rain":0.44},{"t":"13:03","rain":0.34},
          {"t":"13:05","rain":0.27},{"t":"13:06","rain":0.03},{"t":"13:07","rain":0},{"t":"13:17","rain":0},{"t":"13:19","rain":0.04},
          {"t":"13:20","rain":0.08},{"t":"13:22","rain":0},{"t":"13:24","rain":0},{"t":"13:25","rain":0.59},{"t":"13:27","rain":0.8},
          {"t":"13:28","rain":0.23},{"t":"13:31","rain":0.42},{"t":"13:32","rain":0.29},{"t":"13:34","rain":0.41},{"t":"13:36","rain":0},
          {"t":"13:38","rain":0.01},{"t":"13:40","rain":0},{"t":"13:43","rain":0.06},{"t":"13:44","rain":0.18},{"t":"13:46","rain":0.23},
          {"t":"13:48","rain":0},{"t":"13:50","rain":0.04},{"t":"13:52","rain":0.18},{"t":"13:54","rain":0},{"t":"13:56","rain":0.25},
          {"t":"13:58","rain":0.15},{"t":"13:59","rain":0.51},{"t":"14:00","rain":0.32},{"t":"14:02","rain":0.51},{"t":"14:03","rain":2.92},
          {"t":"14:05","rain":1.49},{"t":"14:06","rain":2.48},{"t":"14:08","rain":0.42},{"t":"14:10","rain":0.27},{"t":"14:11","rain":0.71},
          {"t":"14:12","rain":0.8},{"t":"14:14","rain":0.78},{"t":"14:15","rain":0.47},{"t":"14:17","rain":0.54},{"t":"14:18","rain":0.29},
          {"t":"14:19","rain":0.2},{"t":"14:21","rain":0.46},{"t":"14:23","rain":0.3},{"t":"14:25","rain":0.2},{"t":"14:27","rain":0.27},
          {"t":"14:29","rain":0.13},{"t":"14:30","rain":0.18},{"t":"14:32","rain":0.1},{"t":"14:34","rain":0.15},{"t":"14:36","rain":0.08},
          {"t":"14:38","rain":0.1},{"t":"14:40","rain":0.04},{"t":"14:44","rain":0.04},{"t":"14:49","rain":0.04},{"t":"14:52","rain":0.02},
          {"t":"14:57","rain":0.04},{"t":"15:01","rain":0.02},{"t":"15:08","rain":0.01},{"t":"15:11","rain":0},{"t":"15:27","rain":0},
          {"t":"15:28","rain":0.04},{"t":"15:30","rain":0},{"t":"23:08","rain":0},{"t":"23:10","rain":0.39},{"t":"23:12","rain":0.16},
          {"t":"23:14","rain":0.2},{"t":"23:15","rain":0.22},{"t":"23:16","rain":4.61},{"t":"23:18","rain":4.61},{"t":"23:19","rain":0.94},
          {"t":"23:20","rain":2.47},{"t":"23:21","rain":2.42},{"t":"23:22","rain":0.75},{"t":"23:24","rain":1.71},{"t":"23:25","rain":1.66},
          {"t":"23:27","rain":0.35},{"t":"23:28","rain":0.06},{"t":"23:30","rain":0.13},{"t":"23:31","rain":0.02},{"t":"23:32","rain":0},
          {"t":"23:57","rain":0}
        ]
      },
      "mark": {"type": "line", "color": "black", "clip": true},
      "encoding": {
        "x": {
          "field": "t",
          "type": "temporal",
          "title": "Time (hh:mm)",
          "scale": {
            "domain": [
              {"year": 1900, "month": 1, "date": 1, "hours": 0, "minutes": 0},
              {"year": 1900, "month": 1, "date": 1, "hours": 23, "minutes": 57}
            ],
            "nice": false
          },
          "axis": {
            "format": "10-04 %H",
            "values": [
              {"year": 1900, "month": 1, "date": 1, "hours": 3},
              {"year": 1900, "month": 1, "date": 1, "hours": 6},
              {"year": 1900, "month": 1, "date": 1, "hours": 9},
              {"year": 1900, "month": 1, "date": 1, "hours": 12},
              {"year": 1900, "month": 1, "date": 1, "hours": 15},
              {"year": 1900, "month": 1, "date": 1, "hours": 18},
              {"year": 1900, "month": 1, "date": 1, "hours": 21}
            ]
          }
        },
        "y": {
          "field": "rain",
          "type": "quantitative",
          "title": "rain rate",
          "scale": {"domain": [-0.24, 5.04], "nice": false},
          "axis": {"values": [0, 1, 2, 3, 4, 5]}
        }
      }
    }
  ]
}
